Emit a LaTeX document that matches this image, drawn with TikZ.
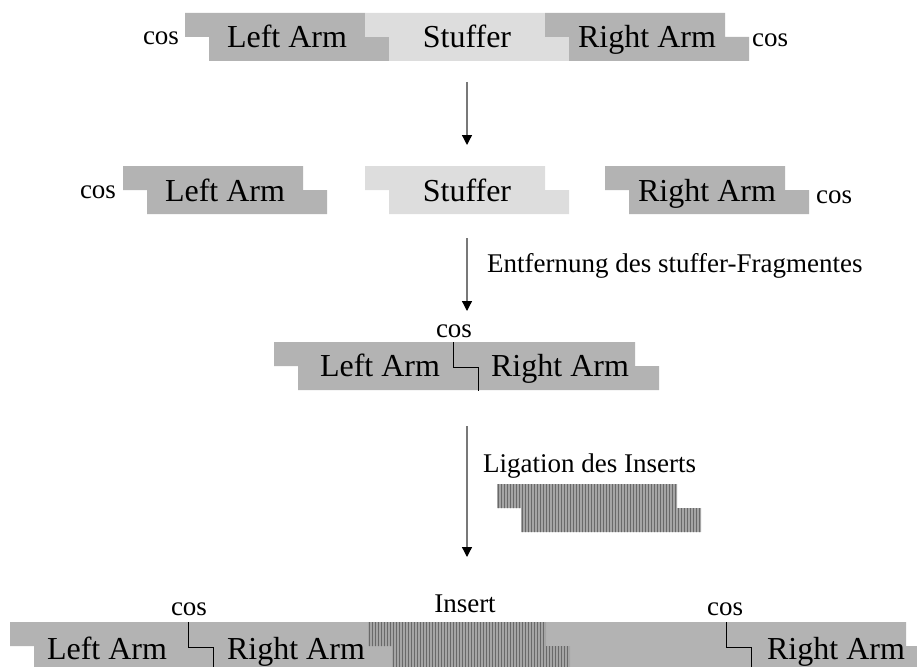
\documentclass[tikz,border=0pt]{standalone}
\usepackage{fontspec}
\setmainfont{Liberation Serif}
\usetikzlibrary{arrows.meta,patterns}

\definecolor{armgray}{RGB}{179,179,179}
\definecolor{stuffgray}{RGB}{221,221,221}
\definecolor{insgray}{RGB}{165,165,165}
\definecolor{insline}{RGB}{105,105,105}
\definecolor{arrowgray}{RGB}{120,120,120}

% double strand with sticky ends: left x, right x of top strand, top y, fill
\newcommand{\dsdna}[4]{%
  \fill[#4] (#1,#3) -- (#2,#3) -- (#2,#3+24) -- (#2+24,#3+24) -- (#2+24,#3+48)
    -- (#1+24,#3+48) -- (#1+24,#3+24) -- (#1,#3+24) -- cycle;}

\begin{document}
\begin{tikzpicture}[x=1pt,y=-1pt,
    big/.style={font=\fontsize{32}{36}\selectfont,anchor=base,inner sep=0pt},
    small/.style={font=\fontsize{27}{30}\selectfont,anchor=base,inner sep=0pt},
    flow/.style={draw=arrowgray,line width=1.3pt,-{Triangle[length=10pt,width=10pt,color=black,fill=black]}},
    nick/.style={draw=black,line width=1pt},
    insert/.style={pattern=vertical lines,pattern color=insline}]
  \useasboundingbox (0,0) rectangle (917,666);

  % vector
  \dsdna{185}{365}{13}{armgray}
  \dsdna{365}{545}{13}{stuffgray}
  \dsdna{545}{725}{13}{armgray}
  \node[big] (la1) at (287,48) {Left Arm};
  \node[big] (st1) at (467,48) {Stuffer};
  \node[big] (ra1) at (647,48) {Right Arm};
  \node[small] (cl1) at (161,45) {cos};
  \node[small] (cr1) at (770,47) {cos};

  % cut
  \dsdna{123}{303}{166}{armgray}
  \dsdna{365}{545}{166}{stuffgray}
  \dsdna{605}{785}{166}{armgray}
  \node[big] (la2) at (225,201) {Left Arm};
  \node[big] (st2) at (467,201) {Stuffer};
  \node[big] (ra2) at (707,201) {Right Arm};
  \node[small] (cl2) at (98,198) {cos};
  \node[small] (cr2) at (834,203) {cos};

  % religated arms
  \dsdna{274}{635}{342}{armgray}
  \node[big] (la3) at (380,376) {Left Arm};
  \node[big] (ra3) at (560,376) {Right Arm};
  \node[small] (c3) at (454,337) {cos};
  \coordinate (n3a) at (453,342);
  \coordinate (n3b) at (478,391);
  \draw[nick] (n3a) |- (n3b |- 0,367) -- (n3b);

  % insert
  \dsdna{497}{677}{484}{insgray}
  \dsdna{497}{677}{484}{insert}

  % ligation product
  \dsdna{10}{906}{622}{armgray}
  \dsdna{368}{546}{622}{insgray}
  \dsdna{368}{546}{622}{insert}
  \node[big] (la4) at (107,659) {Left Arm};
  \node[big] (ra4) at (296,659) {Right Arm};
  \node[big] (ra5) at (836,659) {Right Arm};
  \node[small] (c4) at (189,615) {cos};
  \node[small] (c5) at (725,615) {cos};
  \node[small] (ins) at (465,612) {Insert};
  \coordinate (n4a) at (188,622);
  \coordinate (n4b) at (213,670);
  \draw[nick] (n4a) |- (n4b |- 0,647) -- (n4b);
  \coordinate (n5a) at (726,622);
  \coordinate (n5b) at (751,670);
  \draw[nick] (n5a) |- (n5b |- 0,647) -- (n5b);

  % arrows
  \coordinate (a1) at (467,82);
  \coordinate (b1) at (467,145);
  \coordinate (a2) at (467,238);
  \coordinate (b2) at (467,311);
  \coordinate (a3) at (467,426);
  \coordinate (b3) at (467,557);
  \draw[flow] (a1) -- (b1);
  \draw[flow] (a2) -- (b2);
  \draw[flow] (a3) -- (b3);
  \node[small,anchor=base west] (lab1) at (487,272) {Entfernung des stuffer-Fragmentes};
  \node[small,anchor=base west] (lab2) at (483,472) {Ligation des Inserts};
\end{tikzpicture}
\end{document}
